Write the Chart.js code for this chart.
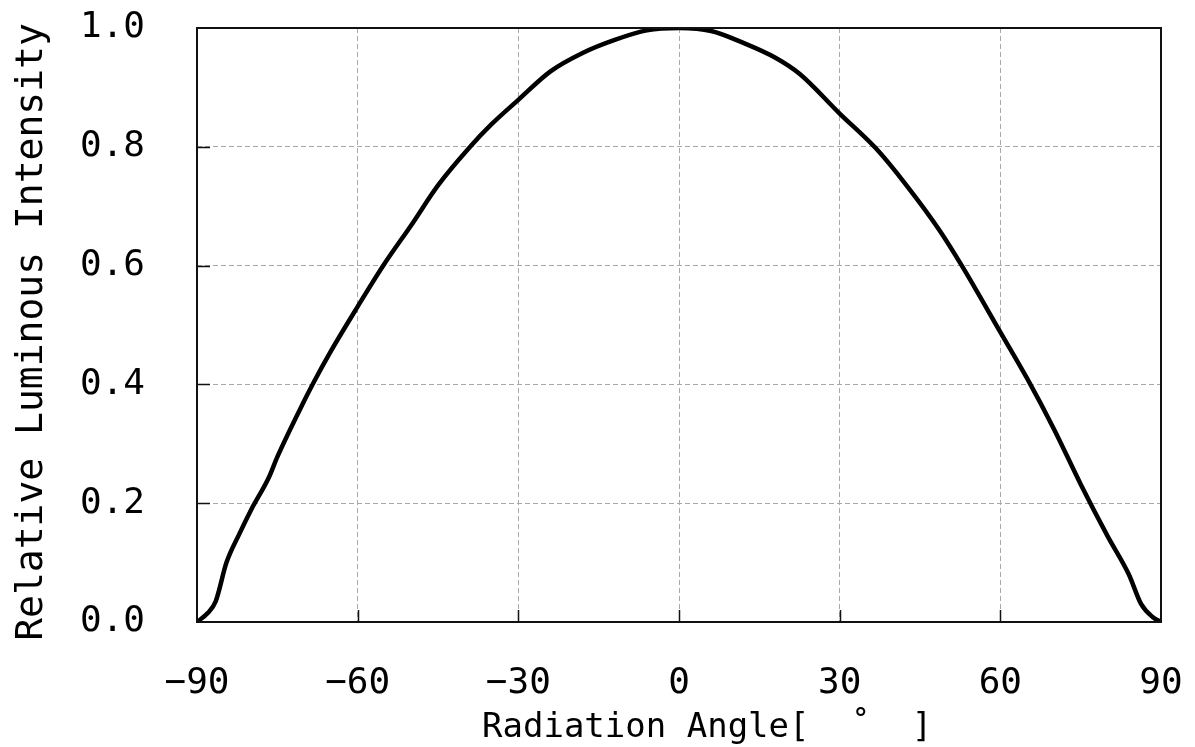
<!DOCTYPE html>
<html>
<head>
<meta charset="utf-8">
<script src="https://cdn.jsdelivr.net/npm/chart.js@4.4.1/dist/chart.umd.min.js"></script>
<style>
    html, body { margin: 0; padding: 0; background: #fff; }
    #wrap { width: 1195px; height: 747px; }
</style>
</head>
<body>
<div id="wrap"><canvas id="chart" width="1195" height="747"></canvas></div>
<script>
// Radiation pattern
const angles = [-90, -88, -86.5, -84.5, -82, -80, -76.5, -75, -70, -68.3, -65, -60, -55, -50, -45, -39, -35, -30, -24, -18, -12, -6, 0,
    6, 12, 18, 22.5, 30, 36.8, 42.4, 48.6, 53, 60, 65, 70, 75, 80, 84, 86.3, 88.5, 90];
const intensity = [0, 0.015, 0.035, 0.10, 0.15, 0.187, 0.245, 0.278, 0.372, 0.402, 0.456, 0.531, 0.603, 0.668, 0.735, 0.80, 0.838, 0.879, 0.927, 0.958, 0.98, 0.996, 1.0,
    0.995, 0.975, 0.95, 0.923, 0.856, 0.797, 0.736, 0.66, 0.597, 0.488, 0.41, 0.325, 0.232, 0.145, 0.08, 0.03, 0.008, 0];

const xTicks = [-90, -60, -30, 0, 30, 60, 90];
const yTicks = [0, 0.2, 0.4, 0.6, 0.8, 1.0];

const xTitle = "Radiation Angle[  ˚  ]";
const yTitle = "Relative Luminous Intensity";

const gridColor = "#a8a8a8";

// frame, inner tick marks and axis titles
const framePlugin = {
    id: "frame",
    afterDraw(chart) {
        const ctx = chart.ctx;
        const area = chart.chartArea;
        const xs = chart.scales.x;
        const ys = chart.scales.y;
        ctx.save();
        ctx.strokeStyle = "#111";
        ctx.lineWidth = 1.5;
        ctx.beginPath();
        xTicks.slice(1, -1).forEach(v => {
            const px = Math.round(xs.getPixelForValue(v)) + 0.5;
            ctx.moveTo(px, area.bottom);
            ctx.lineTo(px, area.bottom - 12);
        });
        yTicks.slice(1, -1).forEach(v => {
            const py = Math.round(ys.getPixelForValue(v)) + 0.5;
            ctx.moveTo(area.left, py);
            ctx.lineTo(area.left + 13, py);
        });
        ctx.stroke();
        ctx.lineWidth = 2;
        ctx.strokeRect(area.left, area.top, area.right - area.left, area.bottom - area.top);

        ctx.fillStyle = "#000";
        ctx.font = "34px 'DejaVu Sans Mono'";
        ctx.textAlign = "left";
        ctx.textBaseline = "alphabetic";
        ctx.fillText(xTitle, 482, 737);

        ctx.translate(42, 332);
        ctx.rotate(-Math.PI / 2);
        ctx.font = "38px 'DejaVu Sans Mono'";
        ctx.textAlign = "center";
        ctx.fillText(yTitle, 0, 0);
        ctx.restore();
    }
};

const ctx = document.getElementById("chart").getContext("2d");
new Chart(ctx, {
    type: "line",
    data: {
        datasets: [{
            data: angles.map((a, i) => ({ x: a, y: intensity[i] })),
            borderColor: "#000",
            borderWidth: 4.5,
            pointRadius: 0,
            cubicInterpolationMode: "monotone",
            fill: false
        }]
    },
    options: {
        responsive: false,
        animation: false,
        layout: { padding: { left: 80, top: 28, right: 34, bottom: 0 } },
        plugins: { legend: { display: false }, tooltip: { enabled: false } },
        scales: {
            x: {
                type: "linear",
                min: -90,
                max: 90,
                afterBuildTicks: s => { s.ticks = xTicks.map(v => ({ value: v })); },
                afterFit: s => { s.height = 125; },
                ticks: {
                    color: "#000",
                    font: { family: "DejaVu Sans Mono", size: 36, lineHeight: 124 / 36 },
                    padding: 0,
                    maxRotation: 0,
                    callback: v => (v < 0 ? "\u2212" + Math.abs(v) : String(v))
                },
                grid: {
                    drawTicks: false,
                    color: c => (c.tick && (c.tick.value === -90 || c.tick.value === 90) ? "rgba(0,0,0,0)" : gridColor),
                    lineWidth: 1
                },
                border: { display: false, dash: [5, 3] }
            },
            y: {
                type: "linear",
                min: 0,
                max: 1,
                afterBuildTicks: s => { s.ticks = yTicks.map(v => ({ value: v })); },
                afterFit: s => { s.width = 117; },
                ticks: {
                    color: "#000",
                    font: { family: "DejaVu Sans Mono", size: 36 },
                    padding: 0,
                    crossAlign: "far",
                    callback: v => v.toFixed(1)
                },
                grid: {
                    drawTicks: false,
                    color: c => (c.tick && (c.tick.value === 0 || c.tick.value === 1) ? "rgba(0,0,0,0)" : gridColor),
                    lineWidth: 1
                },
                border: { display: false, dash: [5, 3] }
            }
        }
    },
    plugins: [framePlugin]
});
</script>
</body>
</html>
